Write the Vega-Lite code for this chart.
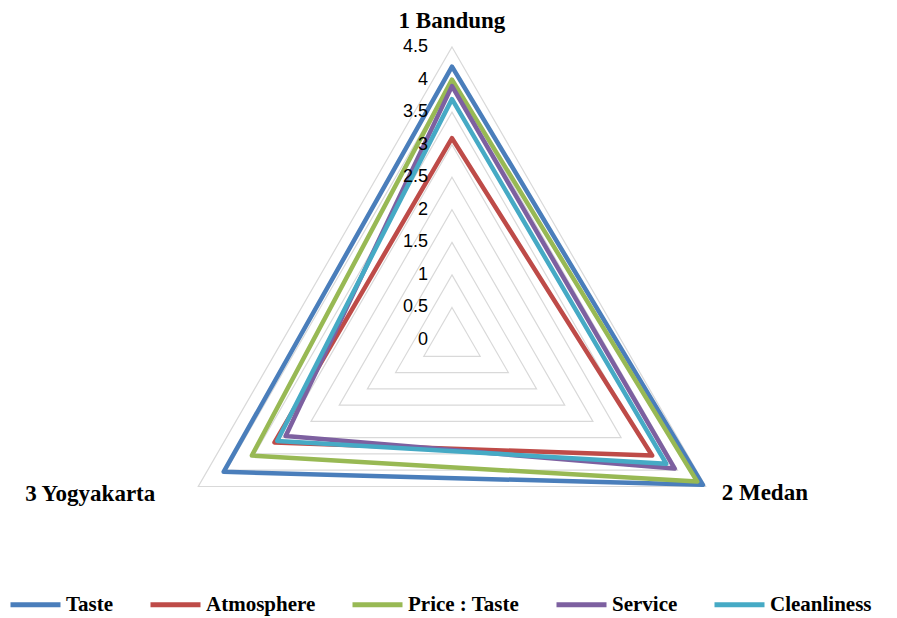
{
  "$schema": "https://vega.github.io/schema/vega-lite/v6.json",
  "width": 897,
  "height": 618,
  "autosize": {"type": "none"},
  "padding": 0,
  "background": "white",
  "config": {"view": {"stroke": null}},
  "datasets": {
    "scores": [
      {"series": "Taste", "city": "1 Bandung", "value": 4.2},
      {"series": "Taste", "city": "2 Medan", "value": 4.45},
      {"series": "Taste", "city": "3  Yogyakarta", "value": 4.05},
      {"series": "Atmosphere", "city": "1 Bandung", "value": 3.1},
      {"series": "Atmosphere", "city": "2 Medan", "value": 3.55},
      {"series": "Atmosphere", "city": "3  Yogyakarta", "value": 3.15},
      {"series": "Price : Taste", "city": "1 Bandung", "value": 4.0},
      {"series": "Price : Taste", "city": "2 Medan", "value": 4.35},
      {"series": "Price : Taste", "city": "3  Yogyakarta", "value": 3.55},
      {"series": "Service", "city": "1 Bandung", "value": 3.9},
      {"series": "Service", "city": "2 Medan", "value": 3.95},
      {"series": "Service", "city": "3  Yogyakarta", "value": 2.95},
      {"series": "Cleanliness", "city": "1 Bandung", "value": 3.7},
      {"series": "Cleanliness", "city": "2 Medan", "value": 3.8},
      {"series": "Cleanliness", "city": "3  Yogyakarta", "value": 3.1}
    ],
    "grid": [
      {"level": 0.5, "k": [0, 1, 2]},
      {"level": 1.0, "k": [0, 1, 2]},
      {"level": 1.5, "k": [0, 1, 2]},
      {"level": 2.0, "k": [0, 1, 2]},
      {"level": 2.5, "k": [0, 1, 2]},
      {"level": 3.0, "k": [0, 1, 2]},
      {"level": 3.5, "k": [0, 1, 2]},
      {"level": 4.0, "k": [0, 1, 2]},
      {"level": 4.5, "k": [0, 1, 2]}
    ],
    "ticks": [
      {"level": 0, "label": "0"},
      {"level": 0.5, "label": "0.5"},
      {"level": 1.0, "label": "1"},
      {"level": 1.5, "label": "1.5"},
      {"level": 2.0, "label": "2"},
      {"level": 2.5, "label": "2.5"},
      {"level": 3.0, "label": "3"},
      {"level": 3.5, "label": "3.5"},
      {"level": 4.0, "label": "4"},
      {"level": 4.5, "label": "4.5"}
    ],
    "cities": [
      {"city": "1 Bandung", "k": 0, "r": 4.5},
      {"city": "2 Medan", "k": 1, "r": 4.5},
      {"city": "3  Yogyakarta", "k": 2, "r": 4.5}
    ]
  },
  "layer": [
    {
      "data": {"name": "grid"},
      "transform": [
        {"flatten": ["k"]},
        {"calculate": "PI/2 - datum.k*2*PI/3", "as": "ang"},
        {"calculate": "datum.level*cos(datum.ang)", "as": "px"},
        {"calculate": "datum.level*sin(datum.ang)", "as": "py"}
      ],
      "mark": {"type": "line", "interpolate": "linear-closed", "stroke": "#d9d9d9", "strokeWidth": 1.2},
      "encoding": {
        "x": {"field": "px", "type": "quantitative", "scale": {"domain": [-6.943, 6.836], "nice": false, "zero": false}, "axis": null},
        "y": {"field": "py", "type": "quantitative", "scale": {"domain": [-4.27, 5.223], "nice": false, "zero": false}, "axis": null},
        "detail": {"field": "level", "type": "nominal"},
        "order": {"field": "k", "type": "quantitative"}
      }
    },
    {
      "data": {"name": "scores"},
      "transform": [
        {"calculate": "indexof(['1 Bandung','2 Medan','3  Yogyakarta'], datum.city)", "as": "k"},
        {"calculate": "PI/2 - datum.k*2*PI/3", "as": "ang"},
        {"calculate": "datum.value*cos(datum.ang)", "as": "px"},
        {"calculate": "datum.value*sin(datum.ang)", "as": "py"}
      ],
      "mark": {"type": "line", "interpolate": "linear-closed", "strokeWidth": 4.5, "strokeJoin": "round"},
      "encoding": {
        "x": {"field": "px", "type": "quantitative", "scale": {"domain": [-6.943, 6.836], "nice": false, "zero": false}, "axis": null},
        "y": {"field": "py", "type": "quantitative", "scale": {"domain": [-4.27, 5.223], "nice": false, "zero": false}, "axis": null},
        "order": {"field": "k", "type": "quantitative"},
        "color": {
          "field": "series",
          "type": "nominal",
          "scale": {
            "domain": ["Taste", "Atmosphere", "Price : Taste", "Service", "Cleanliness"],
            "range": ["#4a7ebb", "#be4b48", "#98b954", "#7d60a0", "#46aac5"]
          },
          "legend": {
            "title": null,
            "orient": "none",
            "legendX": 8,
            "legendY": 577,
            "direction": "horizontal",
            "symbolType": "stroke",
            "symbolSize": 2500,
            "symbolStrokeWidth": 5,
            "labelFont": "Liberation Serif",
            "labelFontSize": 21,
            "labelFontWeight": "bold",
            "labelColor": "#000000",
            "labelOffset": 3,
            "columnPadding": 26,
            "symbolOffset": 0
          }
        }
      }
    },
    {
      "data": {"name": "ticks"},
      "mark": {"type": "text", "align": "right", "baseline": "middle", "dx": -24, "font": "Liberation Sans", "fontSize": 18, "fill": "#000000"},
      "encoding": {
        "x": {"datum": 0, "type": "quantitative", "scale": {"domain": [-6.943, 6.836], "nice": false, "zero": false}, "axis": null},
        "y": {"field": "level", "type": "quantitative", "scale": {"domain": [-4.27, 5.223], "nice": false, "zero": false}, "axis": null},
        "text": {"field": "label"}
      }
    },
    {
      "data": {"name": "cities"},
      "transform": [
        {"filter": "datum.k == 0"},
        {"calculate": "PI/2 - datum.k*2*PI/3", "as": "ang"},
        {"calculate": "datum.r*cos(datum.ang)", "as": "px"},
        {"calculate": "datum.r*sin(datum.ang)", "as": "py"}
      ],
      "mark": {"type": "text", "align": "center", "baseline": "middle", "dy": -26, "font": "Liberation Serif", "fontSize": 23, "fontWeight": "bold", "fill": "#000000"},
      "encoding": {
        "x": {"field": "px", "type": "quantitative", "scale": {"domain": [-6.943, 6.836], "nice": false, "zero": false}, "axis": null},
        "y": {"field": "py", "type": "quantitative", "scale": {"domain": [-4.27, 5.223], "nice": false, "zero": false}, "axis": null},
        "text": {"field": "city"}
      }
    },
    {
      "data": {"name": "cities"},
      "transform": [
        {"filter": "datum.k == 1"},
        {"calculate": "PI/2 - datum.k*2*PI/3", "as": "ang"},
        {"calculate": "datum.r*cos(datum.ang)", "as": "px"},
        {"calculate": "datum.r*sin(datum.ang)", "as": "py"}
      ],
      "mark": {"type": "text", "align": "left", "baseline": "middle", "dx": 16, "dy": 7, "font": "Liberation Serif", "fontSize": 23, "fontWeight": "bold", "fill": "#000000"},
      "encoding": {
        "x": {"field": "px", "type": "quantitative", "scale": {"domain": [-6.943, 6.836], "nice": false, "zero": false}, "axis": null},
        "y": {"field": "py", "type": "quantitative", "scale": {"domain": [-4.27, 5.223], "nice": false, "zero": false}, "axis": null},
        "text": {"field": "city"}
      }
    },
    {
      "data": {"name": "cities"},
      "transform": [
        {"filter": "datum.k == 2"},
        {"calculate": "PI/2 - datum.k*2*PI/3", "as": "ang"},
        {"calculate": "datum.r*cos(datum.ang)", "as": "px"},
        {"calculate": "datum.r*sin(datum.ang)", "as": "py"}
      ],
      "mark": {"type": "text", "align": "right", "baseline": "middle", "dx": -43, "dy": 8, "font": "Liberation Serif", "fontSize": 23, "fontWeight": "bold", "fill": "#000000"},
      "encoding": {
        "x": {"field": "px", "type": "quantitative", "scale": {"domain": [-6.943, 6.836], "nice": false, "zero": false}, "axis": null},
        "y": {"field": "py", "type": "quantitative", "scale": {"domain": [-4.27, 5.223], "nice": false, "zero": false}, "axis": null},
        "text": {"field": "city"}
      }
    }
  ]
}
